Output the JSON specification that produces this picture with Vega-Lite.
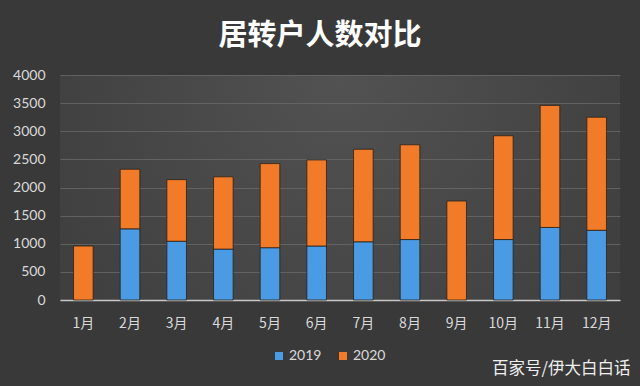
{
  "$schema": "https://vega.github.io/schema/vega-lite/v6.json",
  "width": 560,
  "height": 225,
  "autosize": "none",
  "padding": {"left": 60, "top": 75, "right": 20, "bottom": 86},
  "background": "#393939",
  "title": {
    "text": "居转户人数对比",
    "font": "Noto Sans CJK SC",
    "fontSize": 29,
    "fontWeight": "bold",
    "color": "#ffffff",
    "anchor": "middle",
    "frame": "group",
    "dx": -20,
    "offset": 17
  },
  "data": {
    "values": [
      {"month": "1月", "year": "2020", "order": 2, "count": 960},
      {"month": "2月", "year": "2019", "order": 1, "count": 1265},
      {"month": "2月", "year": "2020", "order": 2, "count": 1060},
      {"month": "3月", "year": "2019", "order": 1, "count": 1045},
      {"month": "3月", "year": "2020", "order": 2, "count": 1095},
      {"month": "4月", "year": "2019", "order": 1, "count": 905},
      {"month": "4月", "year": "2020", "order": 2, "count": 1285},
      {"month": "5月", "year": "2019", "order": 1, "count": 930},
      {"month": "5月", "year": "2020", "order": 2, "count": 1495},
      {"month": "6月", "year": "2019", "order": 1, "count": 960},
      {"month": "6月", "year": "2020", "order": 2, "count": 1530},
      {"month": "7月", "year": "2019", "order": 1, "count": 1035},
      {"month": "7月", "year": "2020", "order": 2, "count": 1645},
      {"month": "8月", "year": "2019", "order": 1, "count": 1075},
      {"month": "8月", "year": "2020", "order": 2, "count": 1685},
      {"month": "9月", "year": "2020", "order": 2, "count": 1760},
      {"month": "10月", "year": "2019", "order": 1, "count": 1075},
      {"month": "10月", "year": "2020", "order": 2, "count": 1845},
      {"month": "11月", "year": "2019", "order": 1, "count": 1290},
      {"month": "11月", "year": "2020", "order": 2, "count": 2170},
      {"month": "12月", "year": "2019", "order": 1, "count": 1240},
      {"month": "12月", "year": "2020", "order": 2, "count": 2010}
    ]
  },
  "mark": {"type": "bar", "stroke": "#2a2118", "strokeWidth": 0.8},
  "encoding": {
    "x": {
      "field": "month",
      "type": "nominal",
      "sort": ["1月", "2月", "3月", "4月", "5月", "6月", "7月", "8月", "9月", "10月", "11月", "12月"],
      "scale": {"paddingInner": 0.58, "paddingOuter": 0.29},
      "axis": {
        "labelAngle": 0,
        "labelColor": "#d9d9d9",
        "labelFont": "Noto Sans CJK SC",
        "labelFontSize": 14,
        "labelPadding": 16,
        "ticks": false,
        "domainColor": "#c8c8c8",
        "domainWidth": 1.5,
        "title": "百家号/伊大白白话",
        "titleFont": "Noto Sans CJK SC",
        "titleFontSize": 16.5,
        "titleFontWeight": "normal",
        "titleColor": "#f0f0f0",
        "titleAlign": "right",
        "titleAnchor": "end",
        "titleX": 570,
        "titleY": 76,
        "titleBaseline": "bottom"
      }
    },
    "y": {
      "field": "count",
      "type": "quantitative",
      "stack": "zero",
      "scale": {"domain": [0, 4000]},
      "axis": {
        "title": null,
        "values": [0, 500, 1000, 1500, 2000, 2500, 3000, 3500, 4000],
        "format": "d",
        "labelColor": "#d9d9d9",
        "labelFont": "Lato",
        "labelFontSize": 14,
        "labelPadding": 15,
        "ticks": false,
        "domain": false,
        "gridColor": "#6a6a6a",
        "gridWidth": 0.8
      }
    },
    "color": {
      "field": "year",
      "type": "nominal",
      "scale": {"domain": ["2019", "2020"], "range": ["#4a9be3", "#f27b2a"]},
      "legend": {
        "title": null,
        "orient": "none",
        "direction": "horizontal",
        "legendX": 212,
        "legendY": 274,
        "symbolType": "square",
        "symbolSize": 64,
        "symbolStrokeWidth": 0,
        "labelColor": "#d9d9d9",
        "labelFont": "Lato",
        "labelFontSize": 14,
        "columnPadding": 14,
        "labelOffset": 3
      }
    },
    "order": {"field": "order", "type": "quantitative"}
  },
  "config": {
    "view": {
      "stroke": null,
      "fill": {
        "gradient": "radial",
        "x1": 0.5, "y1": 0.3, "r1": 0,
        "x2": 0.5, "y2": 0.4, "r2": 0.75,
        "stops": [
          {"offset": 0, "color": "#525252"},
          {"offset": 1, "color": "#393939"}
        ]
      }
    }
  }
}
